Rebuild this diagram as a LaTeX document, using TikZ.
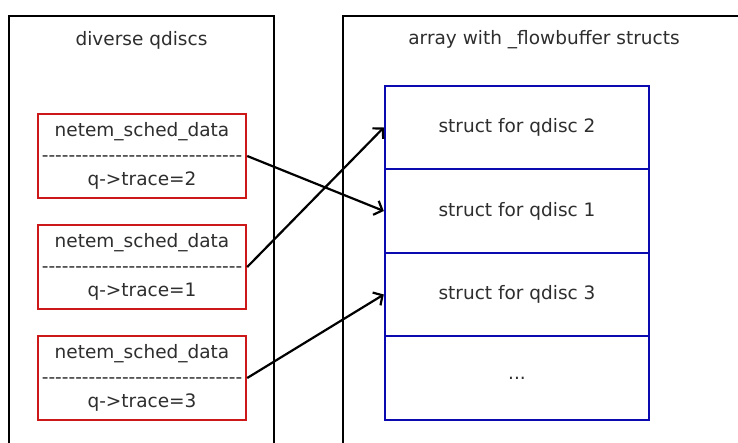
\documentclass[tikz,border=0pt]{standalone}
\usepackage{fontspec}
\setmainfont{DejaVu Sans}[Ligatures=TeXOff]
\usetikzlibrary{arrows.meta}
\definecolor{redbox}{HTML}{CC1818}
\definecolor{bluebox}{HTML}{0A0AB0}
\definecolor{txtgray}{HTML}{2E2E2E}
\tikzset{
  outerbox/.style={draw=black, line width=2.4pt},
  qbox/.style={draw=redbox, line width=2.4pt, minimum width=208pt, minimum height=84pt, inner sep=0pt},
  cell/.style={draw=bluebox, line width=2.4pt, minimum width=264pt, minimum height=83.5pt, inner sep=0pt,
               font=\fontsize{18.5}{22}\selectfont, text=txtgray},
  txt/.style={inner sep=0pt, font=\fontsize{18.5}{22}\selectfont, text=txtgray},
  ptr/.style={line width=2.2pt, -{Straight Barb[length=7pt,width=15pt]}}
}
\begin{document}
\begin{tikzpicture}[x=1pt,y=-1pt]
\useasboundingbox (0,0) rectangle (738,442);
\clip (0,0) rectangle (738,442);
\fill[white] (0,0) rectangle (738,442);
% outer boxes
\draw[outerbox] (9,460) -- (9,16) -- (274,16) -- (274,460);
\draw[outerbox] (343,460) -- (343,16) -- (760,16);
\node[txt] (lt) at (141.5,40) {diverse qdiscs};
\node[txt] (rt) at (544,40) {array with \_flowbuffer structs};
% red boxes
\foreach \i/\y/\t in {1/156/2, 2/267/1, 3/378/3}{
  \node[qbox] (q\i) at (142,\y) {};
  \node[txt] (q\i a) at (142,\y-24) {netem\_sched\_data};
  \node[txt] (q\i b) at (142,\y+3) {------------------------------};
  \node[txt] (q\i c) at (142,\y+25) {q->trace=\t};
}
% array
\node[cell] (c1) at (517,127.5) {struct for qdisc 2};
\node[cell] (c2) at (517,211) {struct for qdisc 1};
\node[cell] (c3) at (517,294.5) {struct for qdisc 3};
\node[cell] (c4) at (517,378) {...};
% pointers
\draw[ptr] (q1.east) -- (c2.west);
\draw[ptr] (q2.east) -- (c1.west);
\draw[ptr] (q3.east) -- (c3.west);
\end{tikzpicture}
\end{document}
